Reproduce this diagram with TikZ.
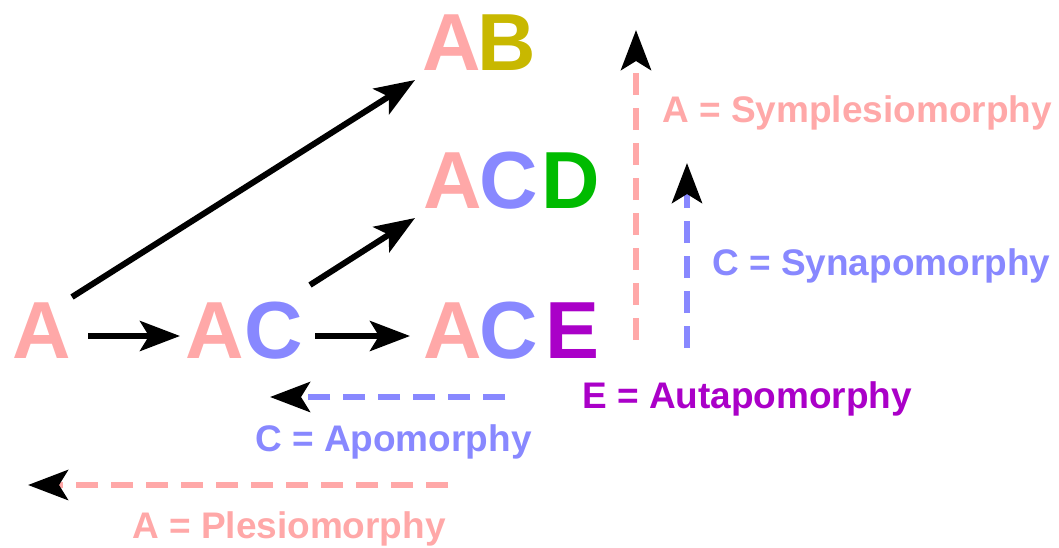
\documentclass[tikz,border=0pt]{standalone}
\usepackage{fontspec}
\setmainfont{Liberation Sans}
\usetikzlibrary{arrows.meta}
\definecolor{cpink}{RGB}{255,168,168}
\definecolor{cblue}{RGB}{136,136,255}
\definecolor{colive}{RGB}{200,184,0}
\definecolor{cgreen}{RGB}{0,187,0}
\definecolor{cpurple}{RGB}{170,0,200}
\begin{document}
\begin{tikzpicture}[x=1pt,y=-1pt,
  big/.style={inner sep=0pt,anchor=base,font=\fontsize{81}{81}\bfseries\selectfont},
  lbl/.style={inner sep=0pt,anchor=base west,font=\fontsize{37}{37}\bfseries\selectfont},
  tip/.style={-{Stealth[length=40pt,width=30pt,inset=9pt,black]}},
  solidarrow/.style={tip,line width=6pt,black},
  dasharrow/.style={tip,line width=6pt,dash pattern=on 22pt off 13pt}]
\useasboundingbox (0,0) rectangle (1059,547);
% letters
\node[big,text=cpink] (a1) at (41.5,358) {A};
\node[big,text=cpink] (ac1) at (215,358) {A};
\node[big,text=cblue] (ac2) at (274,358) {C};
\node[big,text=cpink] (ace1) at (452.5,358) {A};
\node[big,text=cblue] (ace2) at (508.5,358) {C};
\node[big,text=cpurple] (ace3) at (572.5,358) {E};
\node[big,text=cpink] (acd1) at (452.5,208) {A};
\node[big,text=cblue] (acd2) at (509,208) {C};
\node[big,text=cgreen] (acd3) at (571,208) {D};
\node[big,text=cpink] (ab1) at (452,70) {A};
\node[big,text=colive] (ab2) at (506.5,70) {B};
% coordinates for connector ends
\coordinate (s1) at (88,336);
\coordinate (t1) at (180,336);
\coordinate (s2) at (315,336);
\coordinate (t2) at (410,336);
\coordinate (s3) at (72,297);
\coordinate (t3) at (415,80);
\coordinate (s4) at (310,285);
\coordinate (t4) at (415,218);
\draw[solidarrow] (s1) -- (t1);
\draw[solidarrow] (s2) -- (t2);
\draw[solidarrow] (s3) -- (t3);
\draw[solidarrow] (s4) -- (t4);
% dashed arrows
\coordinate (ps) at (636,340);
\coordinate (pt) at (636,30);
\coordinate (bs) at (687,348);
\coordinate (bt) at (687,163);
\coordinate (hs) at (505,397);
\coordinate (ht) at (270,397);
\coordinate (ls) at (448,485);
\coordinate (lt) at (28,485);
\draw[dasharrow,cpink] (ps) -- (pt);
\draw[dasharrow,cblue] (bs) -- (bt);
\draw[dasharrow,cblue] (hs) -- (ht);
\draw[dasharrow,cpink] (ls) -- (lt);
% labels
\node[lbl,text=cpink] (l1) at (662,122) {A = Symplesiomorphy};
\node[lbl,text=cblue] (l2) at (712,275) {C = Synapomorphy};
\node[lbl,text=cpurple] (l3) at (582,408) {E = Autapomorphy};
\node[lbl,text=cblue] (l4) at (255,451) {C = Apomorphy};
\node[lbl,text=cpink] (l5) at (132,538) {A = Plesiomorphy};
\end{tikzpicture}
\end{document}
